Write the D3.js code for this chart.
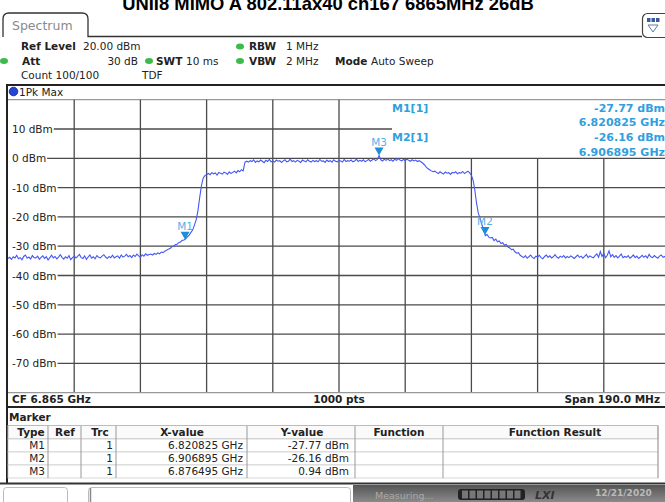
<!DOCTYPE html>
<html><head><meta charset="utf-8">
<script src="https://cdn.jsdelivr.net/npm/d3@7"></script>
<style>body{margin:0;background:#fff;overflow:hidden}svg{display:block;font-family:"DejaVu Sans",sans-serif}</style>
</head><body><svg id="c" width="665" height="502"></svg>
<script>
const title = "UNII8 MIMO A  802.11ax40 ch167 6865MHz 26dB";
const startFreqMHz = 6770;
const stopFreqMHz = 6960;
const stepMHz = 0.5;
const traceDbm = [
-34.2,-33.8,-34.5,-33.6,-34.0,-33.1,-34.3,-33.9,-34.6,-33.5,
-33.0,-34.1,-33.7,-34.4,-33.2,-33.9,-34.0,-33.4,-34.5,-33.8,
-33.3,-34.2,-33.6,-34.7,-33.9,-33.1,-34.0,-33.5,-34.3,-33.7,
-32.9,-33.8,-34.4,-33.6,-34.1,-33.2,-34.6,-33.9,-33.4,-34.0,
-33.5,-32.8,-33.9,-34.2,-33.3,-34.5,-33.7,-33.0,-34.1,-33.6,
-34.3,-33.2,-33.8,-34.0,-33.4,-32.9,-33.7,-34.2,-33.5,-33.9,
-33.1,-34.0,-33.6,-33.3,-34.1,-33.0,-33.7,-33.4,-32.8,-33.6,
-33.2,-33.9,-33.0,-33.5,-32.7,-33.3,-33.8,-32.9,-33.4,-32.6,
-33.1,-32.8,
-32.7,-33.0,-32.5,-32.8,-32.3,-32.6,-32.0,-32.2,-31.7,-31.4,
-31.0,-30.8,-30.2,-30.0,-29.5,-29.3,-28.8,-28.6,-28.0,-27.9,
-27.5,-26.8,-26.2,-25.3,-24.5,-22.8,-21.0,-18.0,-13.5,-9.5,
-6.8,-5.9,-5.6,
-5.2,-5.6,-4.9,-5.3,-5.0,-5.7,-4.8,-5.1,-5.4,-4.7,
-5.0,-5.5,-4.6,-5.2,-4.8,-4.4,-5.0,-4.2,-4.6,-3.9,-4.3,
-1.4,-1.0,
-1.3,-0.8,-1.1,-0.5,-1.4,-0.9,-1.2,-0.6,-1.0,-1.5,
-0.7,-1.1,-0.4,-1.2,-0.9,-1.3,-0.6,-1.0,-0.8,-1.4,
-0.9,-0.5,-1.2,-1.0,-0.3,-1.1,-0.8,-1.3,-0.7,-1.0,
-1.4,-0.6,-0.9,-1.2,-0.5,-1.0,-1.3,-0.7,-1.1,-0.8,
-1.2,-0.4,-1.0,-0.9,-1.4,-0.6,-1.1,-0.8,-1.3,-0.5,
-1.0,-1.2,-0.7,-0.9,-1.3,-0.4,-1.1,-0.8,-1.0,-0.6,
-1.2,-0.9,-0.3,-1.1,-0.7,-1.0,-0.5,-1.2,-0.8,-0.4,
-1.0,-0.6,-0.2,-0.8,-0.4,0.94,-0.5,-0.9,-0.3,-0.7,
-0.2,-0.8,-0.5,-1.0,-0.3,-0.7,-0.1,-0.6,-0.9,-0.4,
-0.8,-0.3,-0.7,-1.0,-0.5,-0.9,-0.6,-1.1,-0.8,
-1.2,-1.6,-2.2,-2.9,-3.5,-3.9,-4.3,-4.6,-4.4,
-4.8,-5.2,-4.6,-5.0,-5.4,-4.7,-5.1,-4.9,-5.5,-4.8,
-5.0,-4.6,-5.3,-4.9,-5.1,-4.5,-5.2,-4.8,-4.4,-5.0,
-5.8,-7.5,-11.0,-15.5,-18.8,-20.5,-22.6,-24.3,-26.4,-26.0,
-26.9,-27.2,-27.0,-28.1,-27.6,-28.5,-28.2,-29.1,-28.8,-29.7,
-29.4,-30.3,-30.6,-31.2,-31.0,-31.9,-32.4,-32.2,-33.1,
-33.5,-33.9,-33.2,-34.1,-33.6,-33.0,-33.8,-34.2,-33.4,-33.7,
-33.1,-33.9,-34.3,-33.5,-33.0,-33.8,-33.3,-34.0,-33.6,-32.9,
-33.7,-34.1,-33.4,-33.8,-33.2,-34.0,-33.5,-33.9,-33.3,-33.7,
-34.2,-33.6,-33.0,-33.8,-33.4,-34.1,-33.5,-32.8,-33.9,-33.3,
-33.7,-34.0,-33.2,-32.6,-33.8,-31.8,-33.5,-32.4,-33.9,-33.1,
-31.6,-33.6,-32.9,-33.8,-33.2,-34.0,-33.4,-32.7,-33.9,-33.5,
-33.8,-33.2,-34.1,-33.6,-33.0,-33.9,-33.4,-34.2,-33.7,-33.1,
-33.8,-33.3,-34.0,-32.8,-33.6,-33.9,-33.2,-33.7,-34.1,-33.4,
-33.0,-33.8,-33.5,-34.0,-33.3,-33.7
];
const yTicks = [10, 0, -10, -20, -30, -40, -50, -60, -70];
const yTickLabels = ["10 dBm","0 dBm","-10 dBm","-20 dBm","-30 dBm","-40 dBm","-50 dBm","-60 dBm","-70 dBm"];
const xGridMHz = [6789, 6808, 6827, 6846, 6865, 6884, 6903, 6922, 6941];
const markerNames = ["M1", "M2", "M3"];
const markerFreqGHz = [6.820825, 6.906895, 6.876495];
const markerDbm = [-27.77, -26.16, 0.94];
const markerTrc = [1, 1, 1];
const markerXText = ["6.820825 GHz", "6.906895 GHz", "6.876495 GHz"];
const markerYText = ["-27.77 dBm", "-26.16 dBm", "0.94 dBm"];
const tableHeaders = ["Type", "Ref", "Trc", "X-value", "Y-value", "Function", "Function Result"];

const svg = d3.select("#c");
const L = 8, R = 670, T = 99.7, B = 392.7;
const x = d3.scaleLinear().domain([startFreqMHz, stopFreqMHz]).range([L, R]);
const y = d3.scaleLinear().domain([-80, 20]).range([B, T]);
const MK = "#2f9fe0";

// title
svg.append("text").attr("x", 328).attr("y", 10).attr("text-anchor", "middle")
  .attr("font-family", "Liberation Sans, Arial, sans-serif").attr("font-weight", "bold")
  .attr("font-size", 18.4).attr("fill", "#000").text(title);

// tab
svg.append("path").attr("d", "M3,37 L3,19 Q3,13 9,13 L82,13 Q88,13 88,19 L88,36.5 L642,36.5")
  .attr("fill", "none").attr("stroke", "#333").attr("stroke-width", 1.3);
svg.append("text").attr("x", 12).attr("y", 30).attr("font-size", 12.5).attr("fill", "#8a8a8a").text("Spectrum");
svg.append("rect").attr("x", 642.5).attr("y", 13.5).attr("width", 30).attr("height", 24).attr("rx", 5)
  .attr("fill", "#fff").attr("stroke", "#444").attr("stroke-width", 1.2);
[0, 1, 2].forEach(i => svg.append("rect").attr("x", 647 + i * 4.5).attr("y", 18).attr("width", 3.5).attr("height", 4).attr("fill", "#3a5a9a"));
svg.append("path").attr("d", "M648,25 L658,25 L653,32 Z").attr("fill", "none").attr("stroke", "#5a7ab0").attr("stroke-width", 1);

// header info
const hdr = svg.append("g").attr("font-size", 10.5).attr("fill", "#222");
function t(xp, yp, s, bold, anchor) {
  hdr.append("text").attr("x", xp).attr("y", yp).attr("font-weight", bold ? "bold" : "normal")
    .attr("text-anchor", anchor || "start").text(s);
}
function dot(xp, yp) {
  svg.append("ellipse").attr("cx", xp).attr("cy", yp).attr("rx", 4).attr("ry", 3).attr("fill", "#3dbb4a");
}
t(21, 50, "Ref Level", true); t(83, 50, "20.00 dBm");
dot(240, 46.5); t(249, 50, "RBW", true); t(286, 50, "1 MHz");
dot(4, 61); t(22, 64.5, "Att", true); t(138, 64.5, "30 dB", false, "end");
dot(149, 61); t(156, 64.5, "SWT", true); t(186, 64.5, "10 ms");
dot(240, 61); t(249, 64.5, "VBW", true); t(286, 64.5, "2 MHz");
t(335, 64.5, "Mode", true); t(371, 64.5, "Auto Sweep");
t(21, 78.5, "Count 100/100"); t(142, 78.5, "TDF");

// diagram frame
svg.append("line").attr("x1", 7).attr("x2", 665).attr("y1", 85).attr("y2", 85).attr("stroke", "#222").attr("stroke-width", 2);
svg.append("circle").attr("cx", 13.5).attr("cy", 91.5).attr("r", 4.3).attr("fill", "#2446d8").attr("stroke", "#102080").attr("stroke-width", 0.8);
svg.append("text").attr("x", 19).attr("y", 96).attr("font-size", 10.5).attr("fill", "#222").text("1Pk Max");
svg.append("line").attr("x1", L).attr("x2", 665).attr("y1", T).attr("y2", T).attr("stroke", "#999").attr("stroke-width", 1.2);

// grid
const grid = svg.append("g");
xGridMHz.forEach(f => {
  const xp = x(f);
  grid.append("line").attr("x1", xp).attr("x2", xp).attr("y1", xp > 392 ? y(0) : T).attr("y2", B)
    .attr("stroke", "#4a4a4a").attr("stroke-width", 1.3);
});
yTicks.forEach((d, i) => {
  const tx = grid.append("text").attr("x", 12).attr("y", y(d) + 4).attr("font-size", 10.5).attr("fill", "#222").text(yTickLabels[i]);
  const w = tx.node().getComputedTextLength();
  grid.append("line").attr("x1", 12 + w + 1).attr("x2", d === 10 ? 392 : R).attr("y1", y(d)).attr("y2", y(d))
    .attr("stroke", "#4a4a4a").attr("stroke-width", 1.3);
});

// trace
svg.append("clipPath").attr("id", "pc").append("rect").attr("x", L).attr("y", T).attr("width", R - L).attr("height", B - T);
const line = d3.line().x((d, i) => x(startFreqMHz + i * stepMHz)).y(d => y(d));
svg.append("path").attr("clip-path", "url(#pc)").attr("d", line(traceDbm))
  .attr("fill", "none").attr("stroke", "#4658f2").attr("stroke-width", 1.1);

// markers
markerNames.forEach((m, i) => {
  const mx = x(markerFreqGHz[i] * 1000), my = y(markerDbm[i]);
  svg.append("path").attr("d", `M${mx - 4.5},${my - 8} L${mx + 4.5},${my - 8} L${mx},${my} Z`).attr("fill", "#1d8fd6");
  svg.append("text").attr("x", mx).attr("y", my - 10).attr("text-anchor", "middle").attr("font-size", 10.5)
    .attr("fill", "#55b2e8").text(m);
});

// marker info
const mi = svg.append("g").attr("font-size", 11).attr("font-weight", "bold").attr("fill", MK);
[0, 1].forEach(i => {
  const by = 111.5 + i * 29.5;
  mi.append("text").attr("x", 392).attr("y", by).text(markerNames[i] + "[1]");
  mi.append("text").attr("x", 665).attr("y", by).attr("text-anchor", "end").text(markerYText[i]);
  mi.append("text").attr("x", 665).attr("y", by + 14.5).attr("text-anchor", "end").text(markerXText[i]);
});

// bottom bar of diagram
svg.append("line").attr("x1", L).attr("x2", 665).attr("y1", B).attr("y2", B).attr("stroke", "#999").attr("stroke-width", 1.2);
const bb = svg.append("g").attr("font-size", 10.5).attr("font-weight", "bold").attr("fill", "#222");
bb.append("text").attr("x", 12).attr("y", 403).text("CF 6.865 GHz");
bb.append("text").attr("x", 339).attr("y", 403).attr("text-anchor", "middle").text("1000 pts");
bb.append("text").attr("x", 660).attr("y", 403).attr("text-anchor", "end").text("Span 190.0 MHz");
svg.append("line").attr("x1", 7).attr("x2", 665).attr("y1", 407).attr("y2", 407).attr("stroke", "#222").attr("stroke-width", 2);
svg.append("line").attr("x1", 7).attr("x2", 7).attr("y1", 84).attr("y2", 484).attr("stroke", "#222").attr("stroke-width", 2);

// marker table
svg.append("text").attr("x", 9).attr("y", 421).attr("font-size", 10.5).attr("font-weight", "bold").attr("fill", "#222").text("Marker");
const colSep = [48, 81, 116, 247, 355, 443, 658];
const headX = [31, 65, 100, 182, 302, 399, 555];
const tb = svg.append("g").attr("font-size", 10.5).attr("fill", "#222");
tb.append("rect").attr("x", 8).attr("y", 425.5).attr("width", 650).attr("height", 13.5).attr("fill", "#fafafa").attr("stroke", "#bbb");
tableHeaders.forEach((h, i) => tb.append("text").attr("x", headX[i]).attr("y", 436).attr("text-anchor", "middle").attr("font-weight", "bold").text(h));
[0, 1, 2].forEach(r => {
  const top = 439 + r * 13;
  tb.append("rect").attr("x", 8).attr("y", top).attr("width", 650).attr("height", 13).attr("fill", "#fff").attr("stroke", "#ccc").attr("stroke-width", 0.8);
  const by = top + 10.2;
  tb.append("text").attr("x", 45).attr("y", by).attr("text-anchor", "end").text(markerNames[r]);
  tb.append("text").attr("x", 113).attr("y", by).attr("text-anchor", "end").text(markerTrc[r]);
  tb.append("text").attr("x", 243).attr("y", by).attr("text-anchor", "end").text(markerXText[r]);
  tb.append("text").attr("x", 349).attr("y", by).attr("text-anchor", "end").text(markerYText[r]);
});
colSep.forEach(c => tb.append("line").attr("x1", c).attr("x2", c).attr("y1", 426).attr("y2", 478).attr("stroke", "#999").attr("stroke-width", 1));
svg.append("line").attr("x1", 0).attr("x2", 665).attr("y1", 483.5).attr("y2", 483.5).attr("stroke", "#333").attr("stroke-width", 2);

// status bar
const defs = svg.append("defs");
const lg = defs.append("linearGradient").attr("id", "sg").attr("x1", 0).attr("x2", 0).attr("y1", 0).attr("y2", 1);
lg.append("stop").attr("offset", "0").attr("stop-color", "#555");
lg.append("stop").attr("offset", "1").attr("stop-color", "#8a8a8a");
svg.append("rect").attr("x", 3.5).attr("y", 487.5).attr("width", 64).attr("height", 20).attr("rx", 3).attr("fill", "#fff").attr("stroke", "#bbb");
svg.append("rect").attr("x", 88.5).attr("y", 487.5).attr("width", 262).attr("height", 20).attr("rx", 3).attr("fill", "#fff").attr("stroke", "#bbb");
svg.append("line").attr("x1", 90.5).attr("x2", 90.5).attr("y1", 488).attr("y2", 502).attr("stroke", "#888").attr("stroke-width", 1.5);
svg.append("rect").attr("x", 353).attr("y", 485).attr("width", 312).attr("height", 17).attr("fill", "url(#sg)");
svg.append("text").attr("x", 375).attr("y", 499).attr("font-size", 9.5).attr("fill", "#aaa").text("Measuring...");
svg.append("rect").attr("x", 458).attr("y", 489).attr("width", 67).attr("height", 11).attr("rx", 3).attr("fill", "#222");
d3.range(8).forEach(k => svg.append("rect").attr("x", 462 + k * 7.5).attr("y", 490.5).attr("width", 6).attr("height", 8).attr("fill", "#777"));
svg.append("text").attr("x", 535).attr("y", 499).attr("font-size", 11).attr("font-weight", "bold").attr("font-style", "italic").attr("fill", "#333").text("LXI");
svg.append("text").attr("x", 595).attr("y", 496).attr("font-size", 9).attr("font-weight", "bold").attr("fill", "#bbb").text("12/21/2020");
</script></body></html>
